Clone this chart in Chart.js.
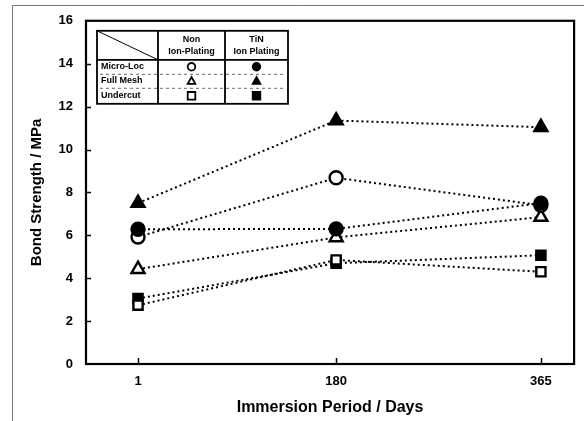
<!DOCTYPE html>
<html>
<head>
<meta charset="utf-8">
<script src="https://cdn.jsdelivr.net/npm/chart.js@4.4.1/dist/chart.umd.min.js"></script>
<style>
html,body{margin:0;padding:0;background:#fff;}
#wrap{position:relative;width:584px;height:421px;}
</style>
</head>
<body>
<div id="wrap"><canvas id="c" width="584" height="421"></canvas></div>
<script>
// ---- data ----
const days = [1, 180, 365];
const yTicks = [0, 2, 4, 6, 8, 10, 12, 14, 16];
const rowNames = ['Micro-Loc', 'Full Mesh', 'Undercut'];
const colHeads = [['Non', 'Ion-Plating'], ['TiN', 'Ion Plating']];
const nonMicroLoc = [5.92, 8.68, 7.4];
const tinMicroLoc = [6.28, 6.3, 7.5];
const nonFullMesh = [4.42, 5.9, 6.85];
const tinFullMesh = [7.5, 11.35, 11.04];
const nonUndercut = [2.74, 4.85, 4.3];
const tinUndercut = [3.05, 4.7, 5.07];
const xTitle = 'Immersion Period / Days';
const yTitle = 'Bond Strength / MPa';

const FONT = "'Liberation Sans', Arial, sans-serif";

function ds(label, vals, style, filled) {
  return {
    label,
    data: vals.map((v, i) => ({x: days[i], y: v})),
    borderColor: '#000',
    borderWidth: 2,
    borderDash: [2, 3],
    pointStyle: style,
    pointRadius: style === 'triangle' ? 7.5 : 6.5,
    pointBorderWidth: 2.4,
    pointBorderColor: '#000',
    pointBackgroundColor: filled ? '#000' : '#fff',
    fill: false,
    tension: 0
  };
}

const frame = {
  id: 'frame',
  beforeDraw(chart) {
    const c = chart.ctx;
    c.save();
    c.fillStyle = '#fff';
    c.fillRect(0, 0, chart.width, chart.height);
    c.strokeStyle = '#777';
    c.lineWidth = 1;
    c.beginPath();
    c.moveTo(12.5, chart.height); c.lineTo(12.5, 5.5); c.lineTo(chart.width, 5.5);
    c.stroke();
    c.restore();
  },
  afterDatasetsDraw(chart) {
    const c = chart.ctx, a = chart.chartArea;
    const xs = chart.scales.x, ys = chart.scales.y;
    c.save();
    c.strokeStyle = '#000';
    c.lineWidth = 2.2;
    c.strokeRect(a.left, a.top, a.right - a.left, a.bottom - a.top);
    c.lineWidth = 1.5;
    c.beginPath();
    yTicks.forEach(v => {
      if (v === 0 || v === 16) return;
      const y = Math.round(ys.getPixelForValue(v)) + 0.5;
      c.moveTo(a.left, y); c.lineTo(a.left + 5, y);
    });
    days.forEach(d => {
      const x = Math.round(xs.getPixelForValue(d)) + 0.5;
      c.moveTo(x, a.bottom); c.lineTo(x, a.bottom - 6);
    });
    c.stroke();

    // legend table
    const L = a.left + 11, T = a.top + 10;
    const c1 = L + 61, c2 = L + 128, R = L + 191;
    const hB = T + 29, B = T + 73;
    c.lineWidth = 1.8;
    c.strokeRect(L, T, R - L, B - T);
    c.beginPath();
    c.moveTo(c1, T); c.lineTo(c1, B);
    c.moveTo(c2, T); c.lineTo(c2, B);
    c.moveTo(L, hB); c.lineTo(R, hB);
    c.stroke();
    c.lineWidth = 1;
    c.beginPath();
    c.moveTo(L, T); c.lineTo(c1, hB);
    c.stroke();
    c.fillStyle = '#000';
    c.font = 'bold 9px ' + FONT;
    c.textAlign = 'center';
    c.textBaseline = 'middle';
    const cx = [(c1 + c2) / 2, (c2 + R) / 2];
    colHeads.forEach((h, i) => {
      c.fillText(h[0], cx[i], T + 9);
      c.fillText(h[1], cx[i], T + 21);
    });
    c.textAlign = 'left';
    const rowY = [hB + 7, hB + 21, hB + 36];
    rowNames.forEach((n, i) => c.fillText(n, L + 4, rowY[i]));
    // dashed separators
    c.setLineDash([3, 3]);
    c.lineWidth = 0.8;
    c.strokeStyle = '#444';
    c.beginPath();
    [hB + 14, hB + 28].forEach(y => { c.moveTo(L + 3, y + 0.5); c.lineTo(R - 3, y + 0.5); });
    c.stroke();
    c.setLineDash([]);
    // symbols
    const styles = ['circle', 'triangle', 'rect'];
    c.strokeStyle = '#000';
    c.lineWidth = 1.8;
    styles.forEach((s, r) => {
      [false, true].forEach((filled, k) => {
        const x = cx[k], y = rowY[r], rr = 3.8;
        c.beginPath();
        if (s === 'circle') c.arc(x, y, rr, 0, Math.PI * 2);
        else if (s === 'triangle') { c.moveTo(x, y - rr); c.lineTo(x + rr, y + rr * 0.8); c.lineTo(x - rr, y + rr * 0.8); c.closePath(); }
        else c.rect(x - rr, y - rr, rr * 2, rr * 2);
        c.fillStyle = filled ? '#000' : '#fff';
        c.fill(); c.stroke();
      });
    });
    c.restore();
  }
};

new Chart(document.getElementById('c'), {
  type: 'line',
  data: {
    datasets: [
      ds('TiN Ion Plating Micro-Loc', tinMicroLoc, 'circle', true),
      ds('Non Ion-Plating Micro-Loc', nonMicroLoc, 'circle', false),
      ds('TiN Ion Plating Full Mesh', tinFullMesh, 'triangle', true),
      ds('Non Ion-Plating Full Mesh', nonFullMesh, 'triangle', false),
      ds('Non Ion-Plating Undercut', nonUndercut, 'rect', false),
      ds('TiN Ion Plating Undercut', tinUndercut, 'rect', true)
    ]
  },
  options: {
    responsive: false,
    animation: false,
    devicePixelRatio: 1,
    layout: {padding: {left: 24, top: 17, right: 8, bottom: 0}},
    plugins: {legend: {display: false}, tooltip: {enabled: false}},
    scales: {
      x: {
        type: 'linear',
        min: -46, max: 395,
        afterBuildTicks: s => { s.ticks = days.map(v => ({value: v})); },
        afterFit: s => { s.height = 57; },
        grid: {display: false, drawTicks: false},
        border: {display: false},
        ticks: {color: '#000', font: {family: FONT, size: 13, weight: 'bold'}, padding: 10, autoSkip: false, maxRotation: 0},
        title: {display: true, text: xTitle, color: '#000', font: {family: FONT, size: 16, weight: 'bold'}, padding: {top: 2}}
      },
      y: {
        min: 0, max: 16,
        afterBuildTicks: s => { s.ticks = yTicks.map(v => ({value: v})); },
        afterFit: s => { s.width = 62; },
        grid: {display: false, drawTicks: false},
        border: {display: false},
        ticks: {color: '#000', font: {family: FONT, size: 13, weight: 'bold'}, padding: 13},
        title: {display: true, text: yTitle, color: '#000', font: {family: FONT, size: 15, weight: 'bold'}, padding: {bottom: 0}}
      }
    }
  },
  plugins: [frame]
});
</script>
</body>
</html>
